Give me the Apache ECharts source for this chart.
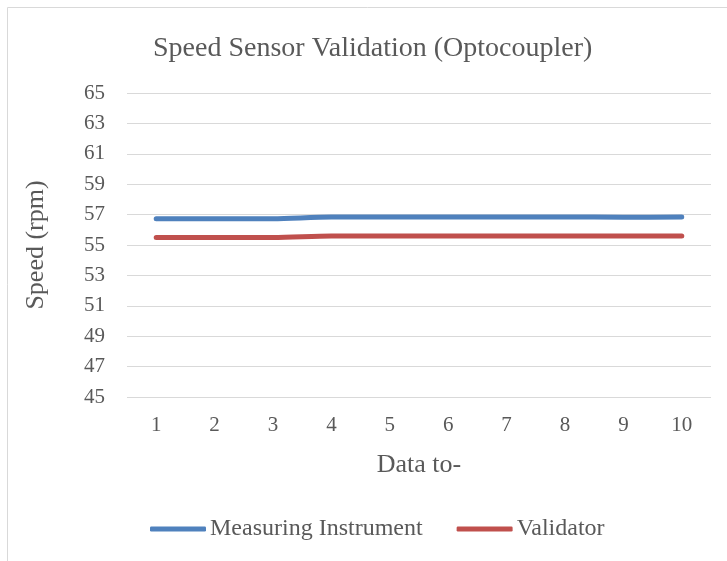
<!DOCTYPE html>
<html><head><meta charset="utf-8">
<script src="https://cdn.jsdelivr.net/npm/echarts@6/dist/echarts.min.js"></script>
<style>html,body{margin:0;padding:0;background:#fff}#c{width:727px;height:561px}</style>
</head><body><div id="c"></div>
<script>
const categories = ['1','2','3','4','5','6','7','8','9','10'];
const measuring = [56.72,56.72,56.73,56.84,56.84,56.84,56.84,56.84,56.83,56.84];
const validator = [55.50,55.50,55.50,55.59,55.59,55.59,55.59,55.59,55.59,55.59];
const chart = echarts.init(document.getElementById('c'));
const font = 'Liberation Serif';
chart.setOption({
  animation:false,
  textStyle:{fontFamily:font},
  graphic:[{type:'rect',shape:{x:7.5,y:7.5,width:740,height:570},style:{fill:'none',stroke:'#d9d9d9',lineWidth:1}}],
  title:{text:'Speed Sensor Validation (Optocoupler)',left:148,top:30,
    textStyle:{fontFamily:font,fontSize:28,fontWeight:'normal',color:'#595959'}},
  grid:{left:127,right:16,top:93,bottom:164},
  legend:{top:512,left:145,itemWidth:56,itemHeight:5,itemGap:34,
    icon:'roundRect',
    textStyle:{fontFamily:font,fontSize:24,color:'#595959',padding:[0,0,0,-1]},
    data:['Measuring Instrument','Validator']},
  xAxis:{type:'category',data:categories,boundaryGap:true,
    name:'Data to-',nameLocation:'middle',nameGap:55,
    nameTextStyle:{fontFamily:font,fontSize:26,color:'#595959'},
    axisLine:{show:false},axisTick:{show:false},
    axisLabel:{fontFamily:font,fontSize:21,color:'#595959',margin:18}},
  yAxis:{type:'value',min:45,max:65,interval:2,
    name:'Speed (rpm)',nameLocation:'middle',nameGap:78,
    nameTextStyle:{fontFamily:font,fontSize:26,color:'#595959'},
    axisLine:{show:false},axisTick:{show:false},
    splitLine:{lineStyle:{color:'#d9d9d9',width:1}},
    axisLabel:{fontFamily:font,fontSize:21,color:'#595959',margin:22}},
  series:[
    {name:'Measuring Instrument',type:'line',data:measuring,smooth:0.3,symbol:'none',
      itemStyle:{color:'#4f81bd'},lineStyle:{color:'#4f81bd',width:5,cap:'round'}},
    {name:'Validator',type:'line',data:validator,smooth:0.3,symbol:'none',
      itemStyle:{color:'#c0504d'},lineStyle:{color:'#c0504d',width:5,cap:'round'}}
  ]
});
</script></body></html>
